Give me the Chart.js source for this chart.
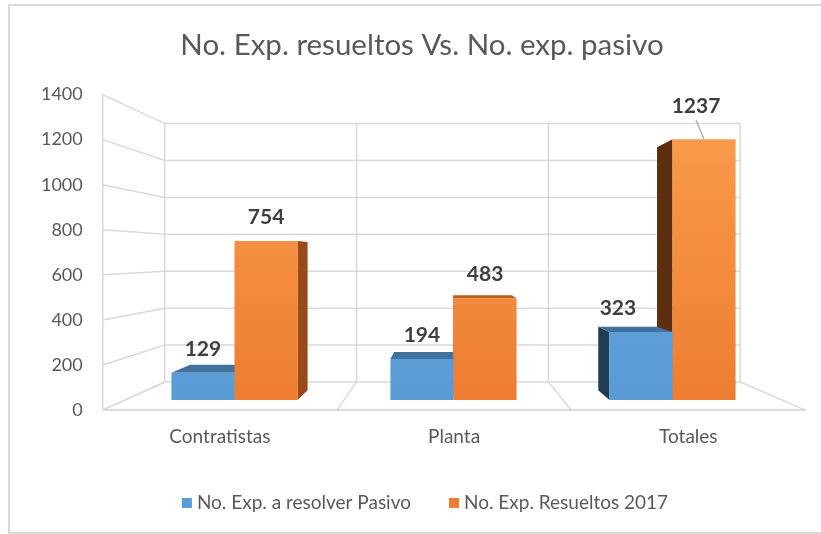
<!DOCTYPE html>
<html>
<head>
<meta charset="utf-8">
<script src="https://cdn.jsdelivr.net/npm/chart.js@4.4.1/dist/chart.umd.min.js"></script>
<style>
  html, body { margin: 0; padding: 0; background: #fff; }
  canvas { display: block; }
</style>
</head>
<body>
<canvas id="chart" width="821" height="534"></canvas>
<script>
(function () {
  'use strict';

  // data
  const CATEGORIES = ['Contratistas', 'Planta', 'Totales'];
  const PASIVO = [129, 194, 323];
  const RESUELTOS = [754, 483, 1237];
  const SERIES_NAMES = ['No. Exp. a resolver Pasivo', 'No. Exp. Resueltos 2017'];
  const Y_TICKS = [0, 200, 400, 600, 800, 1000, 1200, 1400];
  const TITLE = 'No. Exp. resueltos Vs. No. exp. pasivo';

  // perspective: bars live on a plane between the front edge and the back wall
  const VP = { x: 445, y: 255 };
  const S_BAR = 0.935;   // bar front plane, relative to front edge
  const S_WALL = 0.819;  // back wall, relative to front edge
  const BAR_DEPTH = 0.932;

  const FONT = 'Lato, "Open Sans", sans-serif';
  const TEXT = '#595959';
  const GRID = '#d9d9d9';

  const COLORS = [
    { front: '#5b9bd5', light: '#66a8e2', top: '#41719c', left: '#213d56', right: '#2f5f8c' },
    { front: '#ed7d31', light: '#fa9d4e', top: '#b95c1d', left: '#5e2e10', right: '#9a4a19' },
  ];

  // label nudges (px): only the last orange label is lifted with a leader line
  const LABEL_NUDGE = [
    [[0, 0], [0, 0], [-23, 0]],
    [[0, 0], [0, 0], [-8, -9]],
  ];

  const toPlane = (x, y, s) => [VP.x + (x - VP.x) * s / S_BAR, VP.y + (y - VP.y) * s / S_BAR];
  const toBack = (x, y) => [VP.x + (x - VP.x) * BAR_DEPTH, VP.y + (y - VP.y) * BAR_DEPTH];

  const line = (ctx, pts, color, w) => {
    ctx.beginPath();
    ctx.moveTo(pts[0][0], pts[0][1]);
    for (let i = 1; i < pts.length; i++) ctx.lineTo(pts[i][0], pts[i][1]);
    ctx.strokeStyle = color;
    ctx.lineWidth = w || 1;
    ctx.stroke();
  };

  const quad = (ctx, pts, color) => {
    ctx.beginPath();
    ctx.moveTo(pts[0][0], pts[0][1]);
    for (let i = 1; i < pts.length; i++) ctx.lineTo(pts[i][0], pts[i][1]);
    ctx.closePath();
    ctx.fillStyle = color;
    ctx.fill();
  };

  // front faces get a soft vertical shade, lighter towards the top
  const shade = (i) => (context) => {
    const { chart } = context;
    const a = chart.chartArea;
    if (!a) return COLORS[i].front;
    const g = chart.ctx.createLinearGradient(0, a.top, 0, a.bottom);
    g.addColorStop(0, COLORS[i].light);
    g.addColorStop(1, COLORS[i].front);
    return g;
  };

  const frame3d = {
    id: 'frame3d',
    beforeDraw(chart) {
      const { ctx, chartArea: a, scales: { x, y } } = chart;
      const catW = (a.right - a.left) / CATEGORIES.length;
      ctx.save();

      // outer border
      ctx.strokeStyle = '#d9d9d9';
      ctx.lineWidth = 2;
      ctx.strokeRect(9, 5, 830, 528);

      // title
      ctx.fillStyle = TEXT;
      ctx.font = `29.5px ${FONT}`;
      ctx.textAlign = 'center';
      ctx.textBaseline = 'middle';
      ctx.fillText(TITLE, 422, 45);

      // walls and gridlines
      const y0 = y.getPixelForValue(0);
      const yTop = y.getPixelForValue(Y_TICKS[Y_TICKS.length - 1]);
      Y_TICKS.forEach(v => {
        const yb = y.getPixelForValue(v);
        line(ctx, [toPlane(a.left, yb, 1), toPlane(a.left, yb, S_WALL), toPlane(a.right, yb, S_WALL)], GRID, 1.5);
      });
      line(ctx, [toPlane(a.left, y0, 1), toPlane(a.left, yTop, 1)], GRID, 1.5);
      for (let i = 0; i <= CATEGORIES.length; i++) {
        const xb = a.left + i * catW;
        line(ctx, [toPlane(xb, yTop, S_WALL), toPlane(xb, y0, S_WALL), toPlane(xb, y0, 1)], GRID, 1.5);
      }
      line(ctx, [toPlane(a.left, y0, 1), toPlane(a.right, y0, 1)], '#cfcfcf', 1.5);

      // tick labels on the front edge
      ctx.font = `18px ${FONT}`;
      ctx.textAlign = 'right';
      Y_TICKS.forEach(v => {
        const p = toPlane(a.left, y.getPixelForValue(v), 1);
        ctx.fillText(String(v), p[0] - 20, p[1]);
      });

      // category labels
      ctx.font = `19px ${FONT}`;
      ctx.textAlign = 'center';
      CATEGORIES.forEach((c, i) => {
        const p = toPlane(x.getPixelForValue(i), y0, 1);
        ctx.fillText(c, p[0], p[1] + 27);
      });

      // legend
      ctx.font = `19px ${FONT}`;
      ctx.textAlign = 'left';
      const box = 10, gap = 5, spacing = 38;
      const widths = SERIES_NAMES.map(n => box + gap + ctx.measureText(n).width);
      const total = widths.reduce((s, w) => s + w, 0) + spacing * (widths.length - 1);
      let lx = 425 - total / 2;
      const ly = 503;
      SERIES_NAMES.forEach((n, i) => {
        ctx.fillStyle = COLORS[i].front;
        ctx.fillRect(lx, ly - box / 2, box, box);
        ctx.fillStyle = TEXT;
        ctx.fillText(n, lx + box + gap, ly);
        lx += widths[i] + spacing;
      });

      ctx.restore();
    },
    beforeDatasetsDraw(chart) {
      const { ctx } = chart;
      ctx.save();
      const bars = [];
      chart.data.datasets.forEach((ds, di) => {
        chart.getDatasetMeta(di).data.forEach(el => {
          const p = el.getProps(['x', 'y', 'base', 'width'], true);
          bars.push({ di, l: p.x - p.width / 2, r: p.x + p.width / 2, t: p.y, b: p.base });
        });
      });
      // side faces first
      bars.forEach(({ di, l, r, t, b }) => {
        if (l > VP.x) quad(ctx, [[l, t], [l, b], toBack(l, b), toBack(l, t)], COLORS[di].left);
        if (r < VP.x) quad(ctx, [[r, t], [r, b], toBack(r, b), toBack(r, t)], COLORS[di].right);
      });
      // then top faces
      bars.forEach(({ di, l, r, t }) => {
        if (t > VP.y) quad(ctx, [[l, t], [r, t], toBack(r, t), toBack(l, t)], COLORS[di].top);
      });
      ctx.restore();
    },
    afterDatasetsDraw(chart) {
      const { ctx } = chart;
      ctx.save();
      ctx.font = `bold 21px ${FONT}`;
      ctx.fillStyle = '#404040';
      ctx.textAlign = 'center';
      ctx.textBaseline = 'middle';
      chart.data.datasets.forEach((ds, di) => {
        chart.getDatasetMeta(di).data.forEach((el, i) => {
          const p = el.getProps(['x', 'y'], true);
          const [dx, dy] = LABEL_NUDGE[di][i];
          const lx = p.x + dx, ly = p.y - 24 + dy;
          ctx.fillText(String(ds.data[i]), lx, ly);
          if (dy < 0) {
            line(ctx, [[lx, ly + 14], [p.x, p.y]], '#a6a6a6', 1.2);
          }
        });
      });
      ctx.restore();
    },
  };

  new Chart(document.getElementById('chart'), {
    type: 'bar',
    data: {
      labels: CATEGORIES,
      datasets: [
        { label: SERIES_NAMES[0], data: PASIVO, backgroundColor: shade(0) },
        { label: SERIES_NAMES[1], data: RESUELTOS, backgroundColor: shade(1) },
      ],
    },
    options: {
      responsive: false,
      animation: false,
      devicePixelRatio: 1,
      layout: { padding: { left: 125, right: 39, top: 105, bottom: 134 } },
      datasets: { bar: { categoryPercentage: 0.576, barPercentage: 1, borderWidth: 0 } },
      plugins: { legend: { display: false }, title: { display: false }, tooltip: { enabled: false } },
      scales: {
        x: { display: false, offset: true },
        y: { display: false, min: 0, max: 1400 },
      },
    },
    plugins: [frame3d],
  });
})();
</script>
</body>
</html>
